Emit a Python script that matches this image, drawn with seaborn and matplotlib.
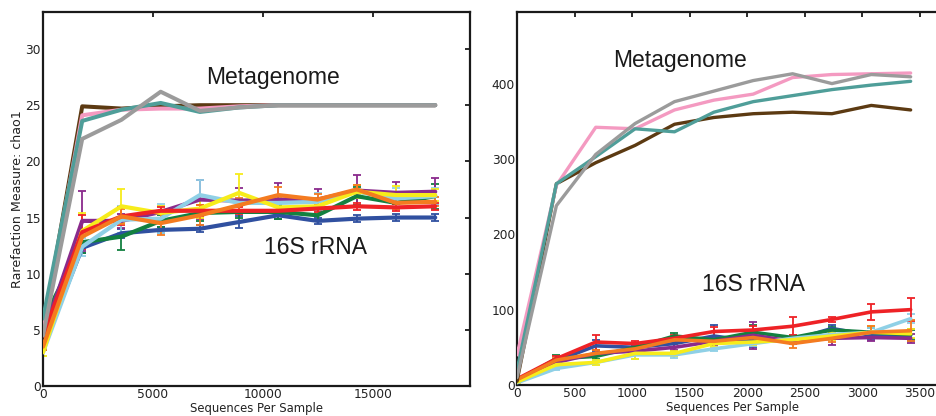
import numpy as np
import pandas as pd
import matplotlib
matplotlib.use("Agg")
import matplotlib.pyplot as plt
import seaborn as sns

# ---------------- data ----------------
# Left panel: chao1 at depths up to ~18k sequences
depth_left = [0, 1782, 3564, 5346, 7128, 8910, 10692, 12474, 14256, 16038, 17820]
# Right panel: depths up to ~3.4k sequences
depth_right = [0, 342, 684, 1026, 1368, 1710, 2052, 2394, 2736, 3078, 3420]

# Metagenome curves (no error bars)
meta_left_brown = [5.0, 24.9, 24.7, 24.9, 25.0, 25.0, 25.0, 25.0, 25.0, 25.0, 25.0]
meta_left_pink = [5.0, 24.1, 24.6, 24.7, 24.7, 24.9, 25.0, 25.0, 25.0, 25.0, 25.0]
meta_left_teal = [6.0, 23.6, 24.6, 25.2, 24.4, 24.8, 25.0, 25.0, 25.0, 25.0, 25.0]
meta_left_gray = [4.5, 22.0, 23.7, 26.2, 24.5, 24.8, 25.0, 25.0, 25.0, 25.0, 25.0]

meta_right_pink = [40, 265, 342, 340, 365, 378, 386, 408, 412, 413, 414]
meta_right_gray = [10, 238, 306, 347, 376, 390, 404, 413, 400, 412, 409]
meta_right_teal = [20, 267, 303, 340, 336, 362, 376, 384, 392, 398, 403]
meta_right_brown = [5, 267, 295, 318, 346, 355, 360, 362, 360, 371, 365]

# 16S rRNA curves (mean and error)
rrna_left_blue = [3.5, 12.3, 13.6, 13.9, 14.0, 14.6, 15.2, 14.7, 14.9, 15.0, 15.0]
rrna_left_green = [5.8, 12.8, 13.3, 14.7, 15.4, 15.5, 15.5, 15.2, 16.9, 16.3, 16.9]
rrna_left_purple = [4.5, 14.7, 14.7, 15.5, 16.6, 16.5, 16.6, 16.6, 17.4, 17.2, 17.3]
rrna_left_lightblue = [3.0, 12.4, 14.8, 14.9, 17.0, 16.3, 16.3, 16.4, 17.3, 16.7, 16.9]
rrna_left_yellow = [3.0, 13.8, 16.0, 15.4, 15.8, 17.2, 15.9, 16.0, 17.3, 17.0, 17.0]
rrna_left_red = [4.5, 13.7, 15.1, 15.6, 15.6, 15.6, 15.6, 15.8, 16.0, 15.9, 16.0]
rrna_left_orange = [3.5, 13.3, 15.1, 14.5, 15.2, 16.1, 17.0, 16.6, 17.5, 16.3, 16.4]

err_left_blue = [0.3, 0.5, 0.4, 0.3, 0.3, 0.5, 0.3, 0.3, 0.3, 0.3, 0.3]
err_left_green = [0.3, 1.0, 1.2, 0.5, 0.7, 0.5, 0.6, 0.5, 0.8, 0.4, 1.1]
err_left_purple = [0.3, 2.7, 0.6, 0.5, 1.7, 1.1, 1.5, 0.9, 1.4, 1.0, 1.2]
err_left_lightblue = [0.3, 0.8, 1.2, 1.3, 1.3, 0.8, 0.6, 0.8, 0.6, 0.9, 0.7]
err_left_yellow = [0.3, 1.6, 1.5, 0.6, 0.8, 1.7, 0.8, 0.7, 0.6, 0.8, 0.5]
err_left_red = [0.3, 1.5, 0.8, 0.3, 0.5, 0.3, 0.3, 0.3, 0.3, 0.3, 0.3]
err_left_orange = [0.3, 0.7, 0.7, 1.1, 0.9, 0.6, 0.7, 0.5, 0.4, 0.5, 0.4]

rrna_right_blue = [6, 32, 52, 50, 55, 65, 58, 60, 75, 66, 66]
rrna_right_green = [6, 35, 38, 50, 65, 60, 70, 63, 73, 70, 67]
rrna_right_purple = [5, 30, 42, 45, 50, 58, 66, 58, 62, 63, 62]
rrna_right_lightblue = [3, 22, 30, 40, 40, 48, 55, 62, 67, 70, 88]
rrna_right_yellow = [4, 27, 30, 42, 42, 55, 57, 60, 65, 70, 68]
rrna_right_red = [8, 35, 57, 55, 62, 71, 73, 78, 87, 97, 100]
rrna_right_orange = [7, 33, 42, 48, 60, 58, 63, 55, 62, 70, 72]

err_right_blue = [1, 3, 8, 4, 5, 14, 8, 4, 4, 6, 8]
err_right_green = [1, 5, 3, 3, 4, 4, 10, 3, 4, 5, 6]
err_right_purple = [1, 2, 4, 3, 4, 5, 18, 4, 9, 5, 6]
err_right_lightblue = [1, 2, 3, 5, 4, 3, 3, 4, 4, 5, 6]
err_right_yellow = [1, 2, 3, 8, 3, 4, 4, 4, 5, 8, 6]
err_right_red = [1, 4, 10, 3, 4, 6, 5, 12, 3, 11, 15]
err_right_orange = [1, 3, 4, 3, 5, 4, 4, 6, 5, 8, 14]

palette = {
    "brown": "#5c3a12",
    "pink": "#f49ac1",
    "teal": "#4f9e99",
    "gray": "#9b9b9b",
    "blue": "#3050a0",
    "green": "#138040",
    "purple": "#8a2a8c",
    "lightblue": "#8fd0e6",
    "yellow": "#f7ec1b",
    "red": "#ee2226",
    "orange": "#f47b20",
}

meta_order = ["brown", "pink", "teal", "gray"]
rrna_order = ["blue", "green", "purple", "lightblue", "yellow", "red", "orange"]

left_meta = dict(brown=meta_left_brown, pink=meta_left_pink,
                 teal=meta_left_teal, gray=meta_left_gray)
right_meta = dict(brown=meta_right_brown, pink=meta_right_pink,
                  teal=meta_right_teal, gray=meta_right_gray)
left_rrna = dict(blue=rrna_left_blue, green=rrna_left_green, purple=rrna_left_purple,
                 lightblue=rrna_left_lightblue, yellow=rrna_left_yellow,
                 red=rrna_left_red, orange=rrna_left_orange)
left_err = dict(blue=err_left_blue, green=err_left_green, purple=err_left_purple,
                lightblue=err_left_lightblue, yellow=err_left_yellow,
                red=err_left_red, orange=err_left_orange)
right_rrna = dict(blue=rrna_right_blue, green=rrna_right_green, purple=rrna_right_purple,
                  lightblue=rrna_right_lightblue, yellow=rrna_right_yellow,
                  red=rrna_right_red, orange=rrna_right_orange)
right_err = dict(blue=err_right_blue, green=err_right_green, purple=err_right_purple,
                 lightblue=err_right_lightblue, yellow=err_right_yellow,
                 red=err_right_red, orange=err_right_orange)


def long_frame(depths, curves):
    rows = []
    for name, vals in curves.items():
        for d, v in zip(depths, vals):
            rows.append({"depth": d, "chao1": v, "sample": name})
    return pd.DataFrame(rows)


# ---------------- style ----------------
sns.set_style("white")
plt.rcParams["font.family"] = ["DejaVu Sans"]
plt.rcParams["xtick.direction"] = "in"
plt.rcParams["ytick.direction"] = "in"

fig = plt.figure(figsize=(9.37, 4.16), dpi=100)
ax_l = fig.add_axes([0.0459, 0.0721, 0.4557, 0.8991])
ax_r = fig.add_axes([0.5518, 0.0745, 0.4600, 0.8967])


def draw_panel(ax, depths, meta, rrna, err, lw_meta, lw_rrna):
    # 16S error bars first, then lines on top
    for name in rrna_order:
        ax.errorbar(depths, rrna[name], yerr=err[name], fmt="none",
                    ecolor=palette[name], elinewidth=1.3, capsize=3,
                    capthick=1.3, zorder=2)
    sns.lineplot(data=long_frame(depths, rrna), x="depth", y="chao1",
                 hue="sample", hue_order=rrna_order, palette=palette,
                 linewidth=lw_rrna, legend=False, sort=False, ax=ax, zorder=3)
    sns.lineplot(data=long_frame(depths, meta), x="depth", y="chao1",
                 hue="sample", hue_order=meta_order, palette=palette,
                 linewidth=lw_meta, legend=False, sort=False, ax=ax, zorder=3)


draw_panel(ax_l, depth_left, left_meta, left_rrna, left_err, 2.9, 3.0)
draw_panel(ax_r, depth_right, right_meta, right_rrna, right_err, 2.4, 2.6)

tick_color = "#222222"
for ax in (ax_l, ax_r):
    for sp in ax.spines.values():
        sp.set_visible(True)
        sp.set_linewidth(1.6)
        sp.set_color("#1a1a1a")
    ax.tick_params(axis="both", which="major", direction="in", length=3.5,
                   width=1.3, color="#1a1a1a", labelsize=8.8,
                   labelcolor=tick_color, top=True, right=True, pad=1.5)
    ax.set_xlabel("Sequences Per Sample", fontsize=8.4, color=tick_color, labelpad=0.5)

ax_l.set_xlim(0, 19400)
ax_l.set_ylim(0, 33.3)
ax_l.set_xticks([0, 5000, 10000, 15000])
ax_l.set_yticks([0, 5, 10, 15, 20, 25, 30])
ax_l.set_ylabel("Rarefaction Measure: chao1", fontsize=9.1, color=tick_color, labelpad=1)

ax_r.set_xlim(0, 3745)
ax_r.set_ylim(0, 495)
ax_r.set_xticks([0, 500, 1000, 1500, 2000, 2500, 3000, 3500])
ax_r.set_yticks([0, 100, 200, 300, 400])
ax_r.set_ylabel("")

label_font = dict(family=["Liberation Sans", "DejaVu Sans"], fontsize=16.5,
                  color="#1a1a1a", ha="center", va="center")
ax_l.text(10430, 27.5, "Metagenome", **label_font)
ax_l.text(12390, 12.3, "16S rRNA", **label_font)
ax_r.text(1415, 431, "Metagenome", **label_font)
ax_r.text(2053, 133, "16S rRNA", **label_font)

fig.savefig("out.png", dpi=100)
